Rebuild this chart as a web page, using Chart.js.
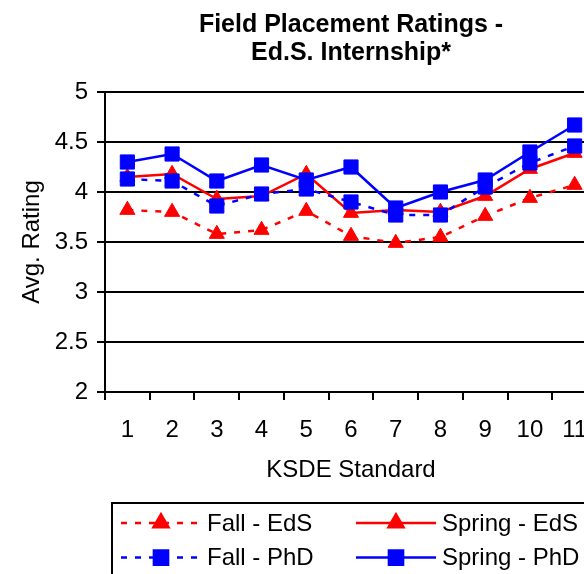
<!DOCTYPE html>
<html>
<head>
<meta charset="utf-8">
<title>Field Placement Ratings</title>
<script src="https://cdn.jsdelivr.net/npm/chart.js@4/dist/chart.umd.min.js"></script>
<style>
  html, body { margin: 0; padding: 0; overflow: hidden; background: #fff; }
  canvas { display: block; }
</style>
</head>
<body>
<canvas id="ratingsChart" width="610" height="574"></canvas>
<script>
// KSDE standards on the x axis
const standards = ['1', '2', '3', '4', '5', '6', '7', '8', '9', '10', '11'];

// Average ratings per standard
const fallEdS   = [3.82, 3.80, 3.58, 3.62, 3.81, 3.56, 3.49, 3.55, 3.76, 3.94, 4.07];
const springEdS = [4.15, 4.18, 3.93, 3.96, 4.18, 3.79, 3.82, 3.80, 3.96, 4.23, 4.39];
const fallPhD   = [4.13, 4.11, 3.86, 3.98, 4.03, 3.90, 3.77, 3.77, 4.05, 4.29, 4.46];
const springPhD = [4.30, 4.38, 4.11, 4.27, 4.12, 4.25, 3.84, 4.00, 4.12, 4.40, 4.67];

const seriesLabels = ['Fall - EdS', 'Spring - EdS', 'Fall - PhD', 'Spring - PhD'];

const FONT = "'Liberation Sans', Arial, sans-serif";
const RED = '#ff0000';
const BLUE = '#0000ff';

const makeSeries = (label, data, color, dashed, style, order) => ({
    label: label,
    data: data,
    borderColor: color,
    backgroundColor: color,
    borderWidth: 2.5,
    borderDash: dashed ? [6, 8] : [],
    pointStyle: style,
    pointRadius: style === 'triangle' ? 8.7 : 10,
    pointBackgroundColor: color,
    pointBorderColor: color,
    pointBorderWidth: 1,
    tension: 0,
    fill: false,
    order: order
});

// Boxed legend under the axis title, two columns like the original
const legendBox = {
    id: 'legendBox',
    afterDraw(chart) {
        const ctx = chart.ctx;
        const left = chart.chartArea.left + 7;
        const top = chart.scales.x.bottom + 16;
        ctx.save();
        ctx.strokeStyle = '#000';
        ctx.lineWidth = 2;
        ctx.strokeRect(left, top, 600, 120);

        chart.data.datasets.forEach((ds, i) => {
            const col = i % 2;
            const row = Math.floor(i / 2);
            const x0 = left + (col === 0 ? 9 : 244);
            const y = top + 20 + row * 34.6;

            ctx.strokeStyle = ds.borderColor;
            ctx.lineWidth = ds.borderWidth;
            ctx.setLineDash(ds.borderDash);
            ctx.beginPath();
            ctx.moveTo(x0, y);
            ctx.lineTo(x0 + 80, y);
            ctx.stroke();
            ctx.setLineDash([]);

            ctx.fillStyle = ds.pointBackgroundColor;
            ctx.strokeStyle = ds.pointBorderColor;
            Chart.helpers.drawPoint(ctx, {
                pointStyle: ds.pointStyle,
                radius: ds.pointRadius,
                rotation: 0,
                borderWidth: ds.pointBorderWidth
            }, x0 + 40, y);

            ctx.fillStyle = '#000';
            ctx.font = '24px ' + FONT;
            ctx.textAlign = 'left';
            ctx.textBaseline = 'middle';
            ctx.fillText(ds.label, x0 + 86, y + 1);
        });
        ctx.restore();
    }
};

const ctx = document.getElementById('ratingsChart').getContext('2d');
const ratingsChart = new Chart(ctx, {
    type: 'line',
    data: {
        labels: standards,
        datasets: [
            makeSeries(seriesLabels[0], fallEdS, RED, true, 'triangle', 3),
            makeSeries(seriesLabels[1], springEdS, RED, false, 'triangle', 2),
            makeSeries(seriesLabels[2], fallPhD, BLUE, true, 'rect', 1),
            makeSeries(seriesLabels[3], springPhD, BLUE, false, 'rect', 0)
        ]
    },
    options: {
        responsive: false,
        animation: false,
        layout: { padding: { left: 0, right: 13, top: 0, bottom: 87 } },
        plugins: {
            legend: { display: false },
            tooltip: { enabled: false },
            title: {
                display: true,
                fullSize: false,
                text: ['Field Placement Ratings -', 'Ed.S. Internship*'],
                color: '#000',
                font: { family: FONT, size: 25, weight: 'bold', lineHeight: 1.12 },
                padding: { top: 11, bottom: 25 }
            }
        },
        scales: {
            x: {
                offset: true,
                grid: {
                    offset: true,
                    drawOnChartArea: false,
                    color: '#000',
                    lineWidth: 2,
                    tickLength: 8
                },
                border: { color: '#000', width: 2 },
                ticks: {
                    color: '#000',
                    padding: 16,
                    maxRotation: 0,
                    font: { family: FONT, size: 24 }
                },
                title: {
                    display: true,
                    text: 'KSDE Standard',
                    color: '#000',
                    font: { family: FONT, size: 24 },
                    padding: { top: 0, bottom: 2 }
                },
                afterFit(scale) { scale.height = 95; }
            },
            y: {
                min: 2,
                max: 5,
                grid: {
                    color: '#000',
                    lineWidth: 2,
                    tickLength: 8
                },
                border: { color: '#000', width: 2 },
                ticks: {
                    stepSize: 0.5,
                    color: '#000',
                    padding: 9,
                    font: { family: FONT, size: 24 },
                    callback: value => String(value)
                },
                title: {
                    display: true,
                    text: 'Avg. Rating',
                    color: '#000',
                    font: { family: FONT, size: 24 },
                    padding: { top: 18, bottom: 0 }
                },
                afterFit(scale) { scale.width = 105; }
            }
        }
    },
    plugins: [legendBox]
});
</script>
</body>
</html>
